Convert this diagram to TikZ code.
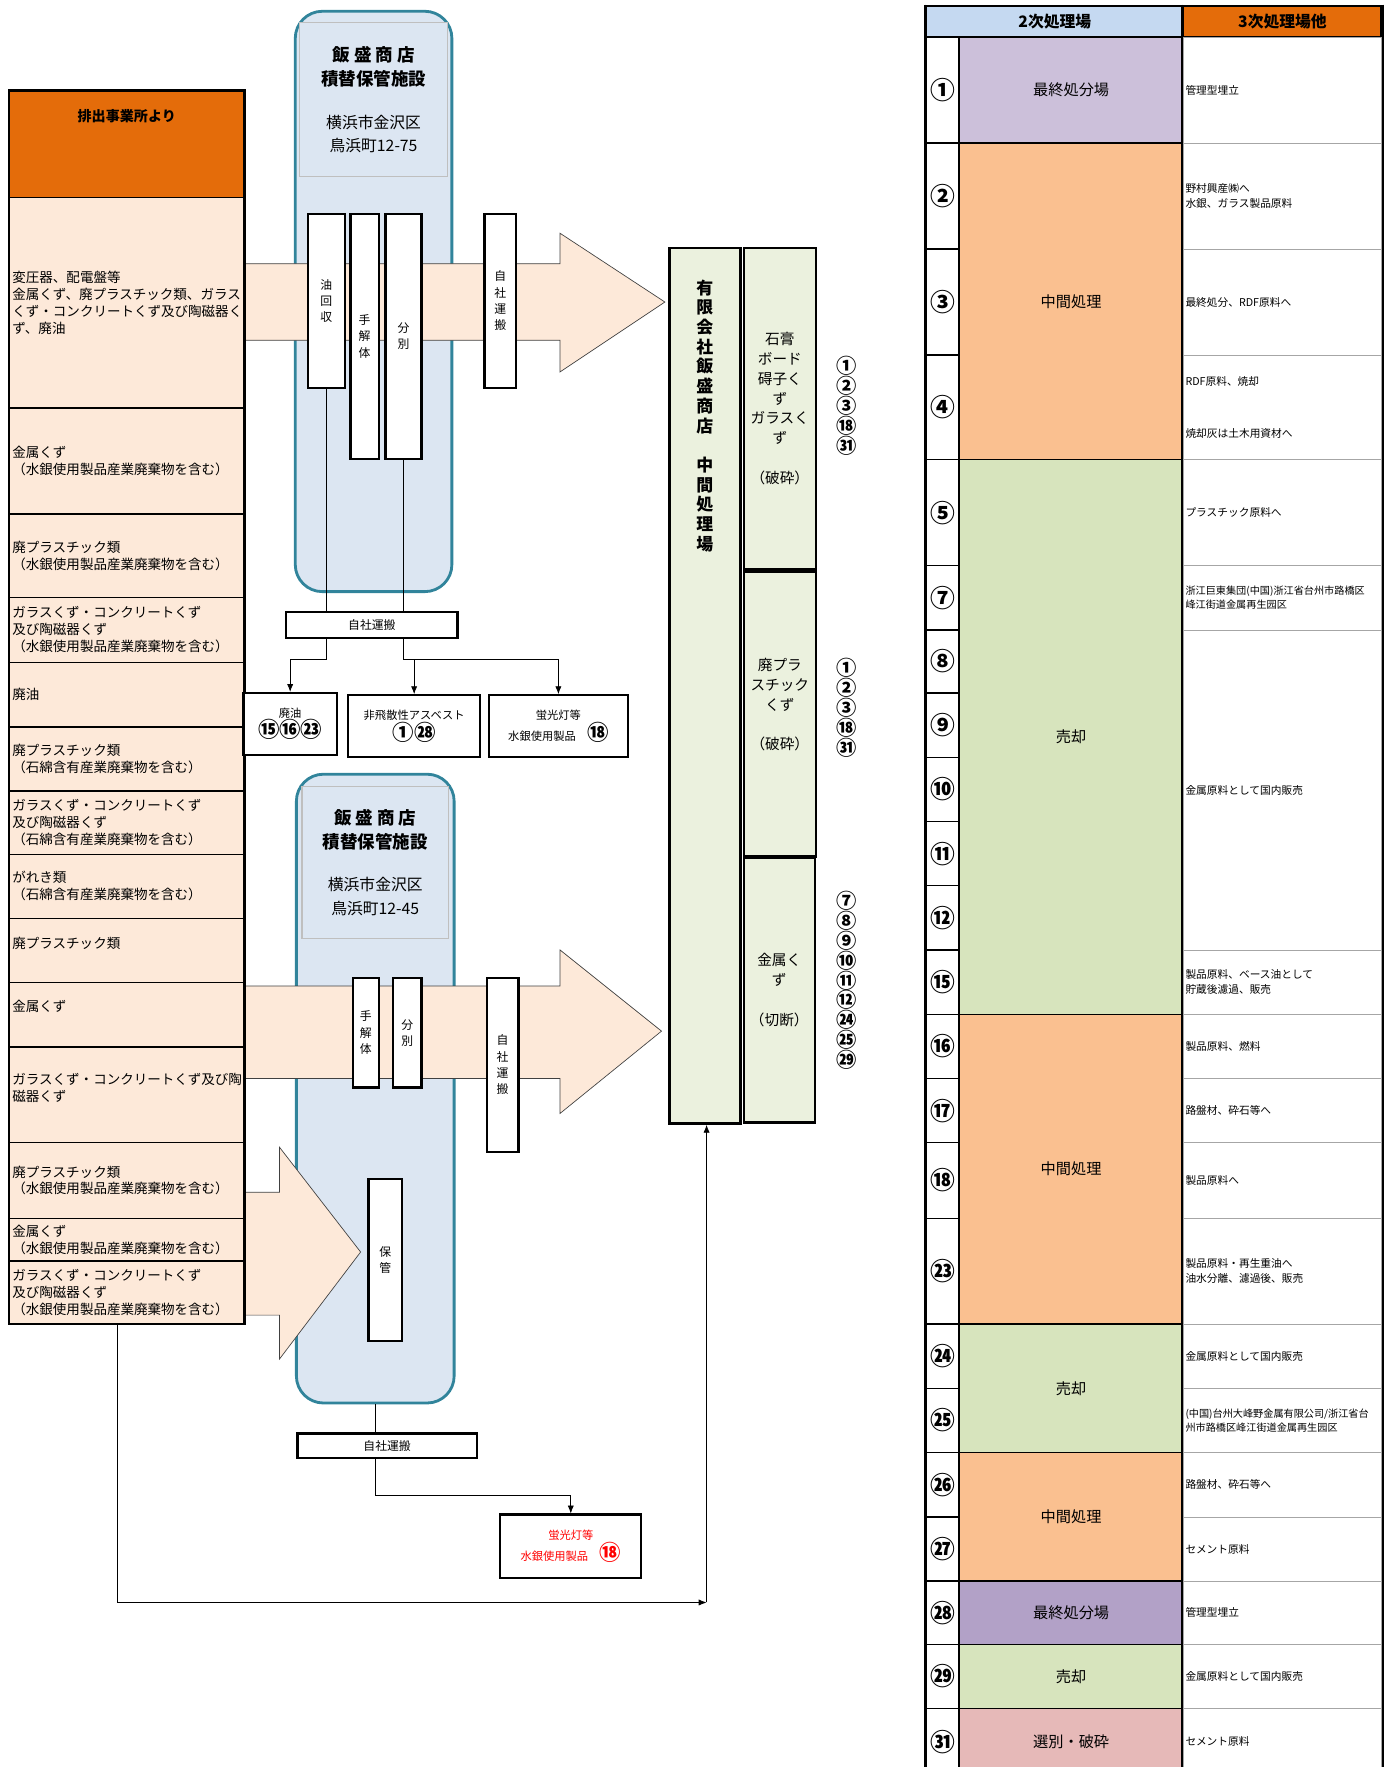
\documentclass[tikz,border=0pt]{standalone}
\usepackage{fontspec}
\setmainfont{Noto Sans CJK JP}
\usetikzlibrary{positioning, arrows.meta, fit}
\definecolor{hdorange}{HTML}{E46C0A}
\definecolor{peach}{HTML}{FDE9D9}
\definecolor{facblue}{HTML}{DCE6F2}
\definecolor{facline}{HTML}{31849B}
\definecolor{midgreen}{HTML}{EBF1DE}
\definecolor{hdblue}{HTML}{C5D9F1}
\definecolor{lav}{HTML}{CCC0DA}
\definecolor{purp}{HTML}{B2A1C7}
\definecolor{orng}{HTML}{FAC090}
\definecolor{grn}{HTML}{D7E4BD}
\definecolor{rosepink}{HTML}{E6B9B8}
\newcommand{\fsz}[2]{\fontsize{#1}{#2}\selectfont}
\newcommand{\nolsk}{\lineskiplimit=-20pt\relax}

\begin{document}
\begin{tikzpicture}[
    x=1pt, y=-1pt,
    cell/.style={draw, line width=1.2pt, fill=peach, outer sep=0pt, text width=203pt, inner xsep=3pt, inner ysep=1pt, align=left, font=\fsz{12}{15}},
    fac/.style={draw=facline, line width=2.5pt, fill=facblue, rounded corners=24pt},
    ttl/.style={draw=black!25, line width=1pt, fill=facblue, align=center, font=\fsz{14}{21}},
    proc/.style={draw, line width=2pt, fill=white, inner sep=0pt, align=center, font=\fsz{10.5}{14.5}},
    lbox/.style={draw, line width=2pt, fill=white, inner sep=0pt, align=center, font=\fsz{10}{18}\nolsk},
    bigarr/.style={draw=black!75, line width=0.6pt, fill=peach},
    arr/.style={-{Latex[length=7pt, width=5.5pt]}, line width=0.7pt},
    midbox/.style={draw, line width=2.2pt, fill=midgreen, inner sep=0pt, align=center},
    nums/.style={align=center, inner sep=0pt, font=\bfseries\fsz{18}{17.6}\nolsk},
    numcell/.style={draw, line width=1.2pt, fill=white, minimum width=29pt, inner sep=0pt, font=\bfseries\fsz{22}{22}},
    blk/.style={draw, line width=1.2pt, minimum width=199pt, inner sep=0pt, font=\fsz{13.5}{16}},
    dst/.style={draw=black!35, line width=0.6pt, fill=white, minimum width=176pt, text width=172pt, inner xsep=2pt, inner ysep=0pt, align=left, font=\fsz{9.5}{13}},
    tblline/.style={line width=2.2pt}
]
    \useasboundingbox (0,0) rectangle (1234,1568);

    % facilities
    \node[fac, minimum width=139pt, minimum height=515pt] (facA) at (331.5,267.5) {};
    \node[ttl, minimum width=131pt, minimum height=137pt] (ttlA) at (331.5,88.5) {{\bfseries\fsz{15.5}{21}飯 盛 商 店}\\{\bfseries\fsz{15.5}{21}積替保管施設}\\[17pt]横浜市金沢区\\鳥浜町12-75};
    \node[fac, minimum width=140pt, minimum height=558pt] (facB) at (333,966) {};
    \node[ttl, minimum width=130pt, minimum height=135pt] (ttlB) at (333,765.5) {{\bfseries\fsz{15.5}{21}飯 盛 商 店}\\{\bfseries\fsz{15.5}{21}積替保管施設}\\[17pt]横浜市金沢区\\鳥浜町12-45};

    % block arrows
    \draw[bigarr] (217,234) -- (497,234) -- (497,207) -- (590,268) -- (497,330) -- (497,302) -- (217,302) -- cycle;
    \draw[bigarr] (217,875) -- (497,875) -- (497,843) -- (587,915) -- (497,988) -- (497,957) -- (217,957) -- cycle;
    \draw[bigarr] (217,1058) -- (248,1058) -- (248,1018) -- (320,1111) -- (248,1206) -- (248,1167) -- (217,1167) -- cycle;

    % waste sources
    \node[cell, fill=hdorange, minimum height=95pt, anchor=north west] (hdr) at (8,80) {};
    \node[font=\bfseries\fsz{12.5}{15}, anchor=north, inner sep=0pt] (hdrlbl) at ([yshift=-17pt]hdr.north) {排出事業所より};
    \node[cell, minimum height=187pt, below=0pt of hdr] (r1) {変圧器、配電盤等\\金属くず、廃プラスチック類、ガラス\\くず・コンクリートくず及び陶磁器く\\ず、廃油};
    \node[cell, minimum height=94pt, below=0pt of r1] (r2) {金属くず\\（水銀使用製品産業廃棄物を含む）};
    \node[cell, minimum height=74pt, below=0pt of r2] (r3) {廃プラスチック類\\（水銀使用製品産業廃棄物を含む）};
    \node[cell, minimum height=58pt, below=0pt of r3] (r4) {ガラスくず・コンクリートくず\\及び陶磁器くず\\（水銀使用製品産業廃棄物を含む）};
    \node[cell, minimum height=57pt, below=0pt of r4] (r5) {廃油};
    \node[cell, minimum height=57pt, below=0pt of r5] (r6) {廃プラスチック類\\（石綿含有産業廃棄物を含む）};
    \node[cell, minimum height=56pt, below=0pt of r6] (r7) {ガラスくず・コンクリートくず\\及び陶磁器くず\\（石綿含有産業廃棄物を含む）};
    \node[cell, minimum height=57pt, below=0pt of r7] (r8) {がれき類\\（石綿含有産業廃棄物を含む）};
    \node[cell, minimum height=57pt, below=0pt of r8] (r9) {廃プラスチック類\\[-2pt]\mbox{}};
    \node[cell, minimum height=57pt, below=0pt of r9] (r10) {金属くず\\[1pt]\mbox{}};
    \node[cell, minimum height=85pt, below=0pt of r10] (r11) {ガラスくず・コンクリートくず及び陶\\磁器くず\\[-2pt]\mbox{}};
    \node[cell, minimum height=67pt, below=0pt of r11] (r12) {廃プラスチック類\\（水銀使用製品産業廃棄物を含む）};
    \node[cell, minimum height=38pt, below=0pt of r12] (r13) {金属くず\\（水銀使用製品産業廃棄物を含む）};
    \node[cell, minimum height=56pt, below=0pt of r13] (r14) {ガラスくず・コンクリートくず\\及び陶磁器くず\\（水銀使用製品産業廃棄物を含む）};
    \node[draw, line width=2.4pt, inner sep=0pt, fit=(hdr) (r14)] (src) {};

    % upper facility steps
    \node[proc, minimum width=33pt, minimum height=154pt] (oilA) at (289.5,267) {油\\回\\収};
    \node[proc, minimum width=25pt, minimum height=217pt] (dismA) at (323.5,298.5) {手\\解\\体};
    \node[proc, minimum width=32pt, minimum height=217pt] (sepA) at (358,298.5) {分\\別};
    \node[proc, minimum width=28pt, minimum height=154pt] (trnA) at (444,267) {自\\社\\運\\搬};
    \node[proc, minimum width=152pt, minimum height=23pt] (trA) at (330,554.5) {自社運搬};
    \node[lbox, minimum width=83pt, minimum height=55pt] (haiyu) at (257.5,642.5) {廃油\\{\bfseries\fsz{19}{18}⑮⑯㉓}};
    \node[lbox, minimum width=117pt, minimum height=55pt] (asb) at (367.5,644.5) {非飛散性アスベスト\\{\bfseries\fsz{19}{18}①㉘}};
    \node[lbox, minimum width=123pt, minimum height=55pt] (keiA) at (495.5,644.5) {蛍光灯等\\水銀使用製品\quad{\bfseries\fsz{19}{18}⑱}};

    % lower facility steps
    \node[proc, minimum width=23pt, minimum height=97pt] (dismB) at (324.5,916.5) {手\\解\\体};
    \node[proc, minimum width=25pt, minimum height=97pt] (sepB) at (361.5,916.5) {分\\別};
    \node[proc, minimum width=28pt, minimum height=154pt] (trnB) at (446,945) {自\\社\\運\\搬};
    \node[proc, minimum width=30pt, minimum height=144pt] (stor) at (342,1118) {保\\管};
    \node[proc, minimum width=159pt, minimum height=22pt] (trB) at (343.5,1283) {自社運搬};
    \node[lbox, text=red, minimum width=125pt, minimum height=56pt] (keiB) at (506.5,1372) {蛍光灯等\\水銀使用製品\quad{\bfseries\fsz{19}{18}⑱}};

    % connectors
    \draw[line width=0.7pt] (oilA.south) -- (oilA.south |- trA.north);
    \draw[line width=0.7pt] (sepA.south) -- (sepA.south |- trA.north);
    \path (oilA.south |- trA.south) ++(0,18) coordinate (jA);
    \path (sepA.south |- trA.south) ++(0,18) coordinate (jB);
    \draw[arr] (oilA.south |- trA.south) -- (jA) -| (haiyu.north);
    \draw[arr] (sepA.south |- trA.south) -- (jB) -| (keiA.north);
    \draw[arr] (jB -| asb.north) -- (asb.north);
    \draw[line width=0.7pt] (facB.south) -- (facB.south |- trB.north);
    \path (facB.south |- trB.south) ++(0,32) coordinate (jC);
    \draw[arr] (facB.south |- trB.south) -- (jC) -| (keiB.north);

    % intermediate treatment plant
    \node[midbox, minimum width=63pt, minimum height=777pt] (midA) at (625.5,608.5) {};
    \node[font=\bfseries\fsz{15}{17.5}, align=center, anchor=north, inner sep=0pt] (midlbl) at ([yshift=-29pt]midA.north) {有\\限\\会\\社\\飯\\盛\\商\\店\\[17.5pt]中\\間\\処\\理\\場};
    \node[midbox, minimum width=64pt, minimum height=285pt, font=\fsz{13}{17.6}] (subA) at (692,362.5) {石膏\\ボード\\碍子く\\ず\\ガラスく\\ず\\[17.6pt]（破砕）};
    \node[midbox, minimum width=64pt, minimum height=253pt, font=\fsz{13}{17.6}] (subB) at (692,633.5) {廃プラ\\スチック\\くず\\[17.6pt]（破砕）\\\mbox{}};
    \node[midbox, minimum width=63pt, minimum height=235pt, font=\fsz{13}{17.6}] (subC) at (691.5,878.5) {金属く\\ず\\[17.6pt]（切断）};
    \node[nums] (lstA) at (751,360) {①\\②\\③\\⑱\\㉛};
    \node[nums] (lstB) at (751,628) {①\\②\\③\\⑱\\㉛};
    \node[nums] (lstC) at (751,870) {⑦\\⑧\\⑨\\⑩\\⑪\\⑫\\㉔\\㉕\\㉙};

    \coordinate (turn) at (627,1422);
    \draw[arr] ([xshift=-8.5pt]src.south) |- (turn);
    \draw[arr] (turn) -- (turn |- midA.south);

    % destination table
    \node[draw, line width=2pt, fill=hdblue, minimum width=228pt, minimum height=28pt, font=\bfseries\fsz{14}{16}] (hd2) at (936,19) {2次処理場};
    \node[draw, line width=2pt, fill=hdorange, minimum width=176pt, minimum height=28pt, font=\bfseries\fsz{14}{16}] (hd3) at (1138,19) {3次処理場他};
    \foreach \n/\ya/\yb [count=\i] in {①/33/127, ②/127/221, ③/221/315, ④/315/408, ⑤/408/502, ⑦/502/559, ⑧/559/615, ⑨/615/672, ⑩/672/729, ⑪/729/786, ⑫/786/843, ⑮/843/900, ⑯/900/957, ⑰/957/1014, ⑱/1014/1081, ㉓/1081/1175, ㉔/1175/1232, ㉕/1232/1289, ㉖/1289/1346, ㉗/1346/1403, ㉘/1403/1459, ㉙/1459/1516, ㉛/1516/1575}
        \node[numcell, minimum height={(\yb-\ya)*1pt}] (n\i) at (836.5,{(\ya+\yb)/2}) {\n};

    \node[blk, fill=lav, minimum height=94pt] (b1) at (950.5,80) {最終処分場};
    \node[blk, fill=orng, minimum height=281pt] (b2) at (950.5,267.5) {中間処理};
    \node[blk, fill=grn, minimum height=492pt] (b3) at (950.5,654) {売却};
    \node[blk, fill=orng, minimum height=275pt] (b4) at (950.5,1037.5) {中間処理};
    \node[blk, fill=grn, minimum height=114pt] (b5) at (950.5,1232) {売却};
    \node[blk, fill=orng, minimum height=114pt] (b6) at (950.5,1346) {中間処理};
    \node[blk, fill=purp, minimum height=56pt] (b7) at (950.5,1431) {最終処分場};
    \node[blk, fill=grn, minimum height=57pt] (b8) at (950.5,1487.5) {売却};
    \node[blk, fill=rosepink, minimum height=59pt] (b9) at (950.5,1545.5) {選別・破砕};

    \node[dst, minimum height=94pt] (d1) at (1138,80) {管理型埋立};
    \node[dst, minimum height=94pt] (d2) at (1138,174) {野村興産㈱へ\\水銀、ガラス製品原料};
    \node[dst, minimum height=94pt] (d3) at (1138,268) {最終処分、RDF原料へ};
    \node[dst, minimum height=93pt] (d4) at (1138,361.5) {RDF原料、焼却\\[33pt]焼却灰は土木用資材へ};
    \node[dst, minimum height=94pt] (d5) at (1138,455) {プラスチック原料へ};
    \node[dst, minimum height=57pt, font=\fsz{9}{12}] (d7) at (1138,530.5) {浙江巨東集団(中国)浙江省台州市路橋区\\峰江街道金属再生园区};
    \node[dst, minimum height=284pt] (d8) at (1138,701) {金属原料として国内販売};
    \node[dst, minimum height=57pt] (d15) at (1138,871.5) {製品原料、ベース油として\\貯蔵後濾過、販売};
    \node[dst, minimum height=57pt] (d16) at (1138,928.5) {製品原料、燃料};
    \node[dst, minimum height=57pt] (d17) at (1138,985.5) {路盤材、砕石等へ};
    \node[dst, minimum height=67pt] (d18) at (1138,1047.5) {製品原料へ};
    \node[dst, minimum height=94pt] (d23) at (1138,1128) {製品原料・再生重油へ\\油水分離、濾過後、販売};
    \node[dst, minimum height=57pt] (d24) at (1138,1203.5) {金属原料として国内販売};
    \node[dst, minimum height=57pt, font=\fsz{9}{12}] (d25) at (1138,1260.5) {(中国)台州大峰野金属有限公司/浙江省台\\州市路橋区峰江街道金属再生园区};
    \node[dst, minimum height=57pt] (d26) at (1138,1317.5) {路盤材、砕石等へ};
    \node[dst, minimum height=57pt] (d27) at (1138,1374.5) {セメント原料};
    \node[dst, minimum height=56pt] (d28) at (1138,1431) {管理型埋立};
    \node[dst, minimum height=57pt] (d29) at (1138,1487.5) {金属原料として国内販売};
    \node[dst, minimum height=59pt] (d31) at (1138,1545.5) {セメント原料};

    \draw[tblline] (hd2.north west) -- ++(0,1580);
    \draw[tblline] (hd3.north west) -- ++(0,1580);
    \draw[tblline] (hd3.north east) -- ++(0,1580);
\end{tikzpicture}
\end{document}
